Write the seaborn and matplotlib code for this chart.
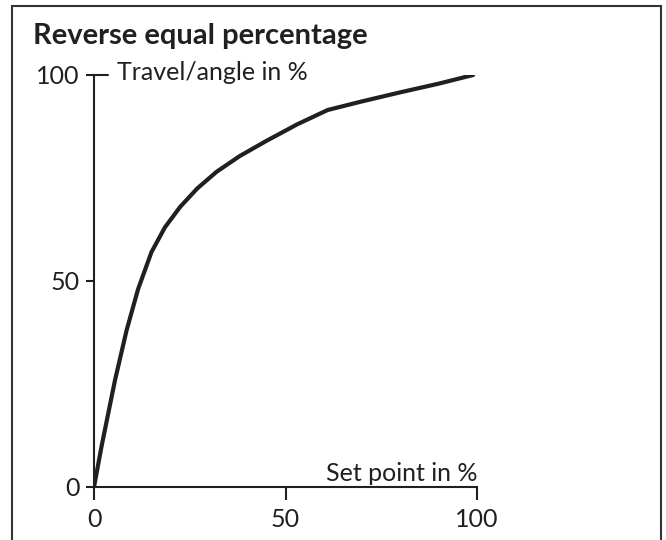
import matplotlib
matplotlib.use("Agg")
import matplotlib.pyplot as plt
import seaborn as sns
import pandas as pd
from matplotlib.patches import Rectangle

# Data
set_point = [0, 2, 5.5, 8.5, 11.5, 15, 18.5, 22.5, 27, 32, 38, 45, 53, 61, 70, 80, 90, 99]
travel = [0, 10, 26, 38, 48, 57, 63, 68, 72.5, 76.5, 80.3, 84, 88, 91.5, 93.6, 95.8, 97.9, 100]
x_ticks = [0, 50, 100]
y_ticks = [0, 50, 100]
title = "Reverse equal percentage"
x_label = "Set point in %"
y_label = "Travel/angle in %"

ink = "#231f20"
sns.set_theme(style="white")
plt.rcParams["font.family"] = ["Lato", "DejaVu Sans"]

df = pd.DataFrame({"x": set_point, "y": travel})

fig = plt.figure(figsize=(6.66, 5.4), dpi=100)
ax = fig.add_axes([94 / 666, 53 / 540, 383 / 666, 412 / 540])
sns.lineplot(data=df, x="x", y="y", ax=ax, color=ink, linewidth=3.0,
             solid_capstyle="round", solid_joinstyle="round")

ax.set_xlim(0, 100)
ax.set_ylim(0, 100)
ax.set_xticks(x_ticks)
ax.set_yticks(y_ticks)
ax.set_xticklabels([str(t) for t in x_ticks])
ax.set_yticklabels([str(t) for t in y_ticks])
for s in ["top", "right"]:
    ax.spines[s].set_visible(False)
for s in ["left", "bottom"]:
    ax.spines[s].set_color(ink)
    ax.spines[s].set_linewidth(1.5)
ax.spines["left"].set_zorder(1)
ax.tick_params(axis="x", direction="out", length=9, width=1.5, color=ink,
               labelsize=18, labelcolor=ink, pad=6, bottom=True)
ax.tick_params(axis="y", direction="out", length=5.5, width=1.5, color=ink,
               labelsize=18, labelcolor=ink, pad=5, left=True)
# T-shaped top tick
ax.axhline(100, xmin=0, xmax=14 / 383, color=ink, linewidth=1.5, clip_on=False)

ax.set_xlabel(x_label, fontsize=18, color=ink, ha="right", va="baseline")
ax.xaxis.set_label_coords(1.0, 6 / 412)
ax.set_ylabel(y_label, fontsize=18, color=ink, rotation=0, ha="left", va="center")
ax.yaxis.set_label_coords(23 / 383, 1.0 + 2 / 412)
ax.patch.set_alpha(0)

fig.text(33 / 666, 1 - 44 / 540, title, fontsize=21, fontweight="bold", color=ink,
         ha="left", va="baseline")

fig.patches.append(Rectangle((12 / 666, -0.05), 649 / 666, 1.05 - 6 / 540,
                             transform=fig.transFigure, fill=False,
                             edgecolor="#333333", linewidth=1.5))

fig.savefig("out.png", dpi=100)
